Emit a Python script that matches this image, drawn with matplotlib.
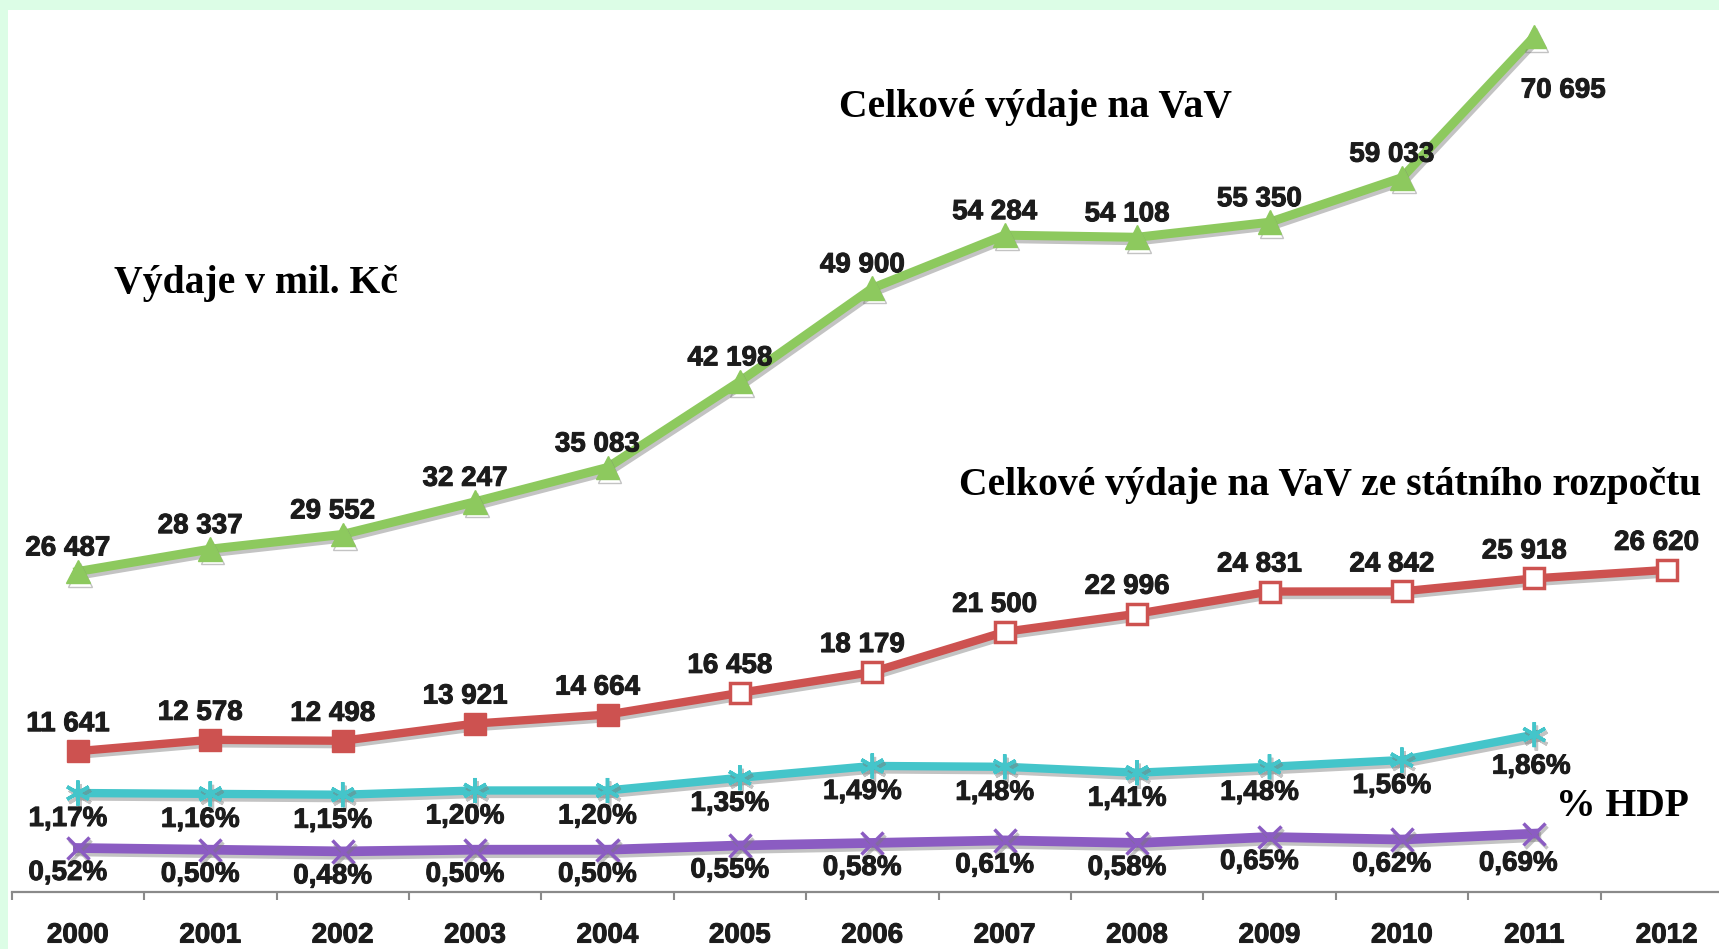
import matplotlib
matplotlib.use("Agg")
import matplotlib.pyplot as plt
import matplotlib.patheffects as pe
import numpy as np

years = ["2000", "2001", "2002", "2003", "2004", "2005", "2006",
         "2007", "2008", "2009", "2010", "2011", "2012"]
total_vav = [26487, 28337, 29552, 32247, 35083, 42198, 49900,
             54284, 54108, 55350, 59033, 70695]
state_vav = [11641, 12578, 12498, 13921, 14664, 16458, 18179,
             21500, 22996, 24831, 24842, 25918, 26620]
total_pct_gdp = [1.17, 1.16, 1.15, 1.20, 1.20, 1.35, 1.49,
                 1.48, 1.41, 1.48, 1.56, 1.86]
state_pct_gdp = [0.52, 0.50, 0.48, 0.50, 0.50, 0.55, 0.58,
                 0.61, 0.58, 0.65, 0.62, 0.69]

W, H = 1719, 949
fig = plt.figure(figsize=(W / 100, H / 100), dpi=100)
fig.patch.set_facecolor("#dcfde6")
# white panel (green frame only on left/top)
fig.patches.append(plt.Rectangle((8 / W, 0), 1, 1 - 10 / H, transform=fig.transFigure,
                                 facecolor="white", edgecolor="none", zorder=-10))

ax_left = 11.7 / W
ax_bottom = (H - 892) / H
ax = fig.add_axes([ax_left, ax_bottom, 13 * 132.4 / W, 892 / H])
ax.set_facecolor("none")
ax2 = ax.twinx()
ax2.set_facecolor("none")

k1 = 0.0121   # px per unit
ax.set_ylim(0, 892 / k1)
k2 = 84.6     # px per percent
ax2.set_ylim(0, 892 / k2)
ax.set_xlim(-0.5, 12.5)

x_all = np.arange(len(years))

def shadow():
    return [pe.SimpleLineShadow(offset=(1.5, -2.5), shadow_color="#7a7a7a", alpha=0.45),
            pe.Normal()]

green = "#8dc95e"
red = "#cd5250"
cyan = "#44c5ca"
purple = "#8b5cc2"

# total R&D
xg = x_all[:len(total_vav)]
ax.plot(xg, total_vav, color=green, lw=6.5, marker="^", ms=17, mfc=green, mec=green,
        path_effects=shadow(), zorder=5, solid_joinstyle="round")
# state budget R&D
xr = x_all[:len(state_vav)]
ax.plot(xr, state_vav, color=red, lw=6, path_effects=shadow(), zorder=5,
        solid_joinstyle="round")
n_filled = 5
ax.plot(xr[:n_filled], state_vav[:n_filled], ls="none", marker="s", ms=16,
        mfc=red, mec=red, zorder=6)
ax.plot(xr[n_filled:], state_vav[n_filled:], ls="none", marker="s", ms=14,
        mfc="white", mec=red, mew=2.5, zorder=6)

# % GDP lines
xc = x_all[:len(total_pct_gdp)]
ax2.plot(xc, total_pct_gdp, color=cyan, lw=6, marker=(6, 2, 0), ms=18, mec=cyan, mew=2.5,
         path_effects=shadow(), zorder=5, solid_joinstyle="round")
xp = x_all[:len(state_pct_gdp)]
ax2.plot(xp, state_pct_gdp, color=purple, lw=7, marker="x", ms=16, mec=purple, mew=2.5,
         path_effects=shadow(), zorder=5, solid_joinstyle="round")

txt_col = "#1c1c1c"
bold_fx = [pe.withStroke(linewidth=0.7, foreground=txt_col)]
lab_kw = dict(fontsize=20, fontweight="bold", family="Liberation Sans", color=txt_col,
              ha="center", va="center", textcoords="offset pixels", zorder=10,
              path_effects=bold_fx)

def fmt_num(v):
    return f"{v:,}".replace(",", " ")

def fmt_pct(v):
    return f"{v:.2f}%".replace(".", ",")

for i, v in enumerate(total_vav):
    off = (29, -54) if i == len(total_vav) - 1 else (-10, 23)
    ax.annotate(fmt_num(v), (xg[i], v), xytext=off, **lab_kw)
for i, v in enumerate(state_vav):
    ax.annotate(fmt_num(v), (xr[i], v), xytext=(-10, 27), **lab_kw)
for i, v in enumerate(total_pct_gdp):
    off = (-3, -32) if i == len(total_pct_gdp) - 1 else (-10, -26)
    ax2.annotate(fmt_pct(v), (xc[i], v), xytext=off, **lab_kw)
for i, v in enumerate(state_pct_gdp):
    off = (-16, -30) if i == len(state_pct_gdp) - 1 else (-10, -25)
    ax2.annotate(fmt_pct(v), (xp[i], v), xytext=off, **lab_kw)

# axes styling
for a in (ax, ax2):
    for s in ("top", "left", "right"):
        a.spines[s].set_visible(False)
    a.set_yticks([])
ax2.spines["bottom"].set_visible(False)
ax.spines["bottom"].set_color("#8a8a8a")
ax.spines["bottom"].set_linewidth(1.6)
ax.set_xticks(np.arange(-0.5, 12.6, 1.0))
ax.set_xticklabels([])
ax.tick_params(axis="x", which="major", length=6, width=1.5, color="#8a8a8a", direction="out")
ax.set_xticks(x_all, minor=True)
ax.set_xticklabels(years, minor=True)
ax.tick_params(axis="x", which="minor", length=0, pad=22)
for t in ax.get_xticklabels(minor=True):
    t.set_fontsize(20)
    t.set_fontweight("bold")
    t.set_family("Liberation Sans")
    t.set_color(txt_col)
    t.set_path_effects(bold_fx)

serif_kw = dict(family="Liberation Serif", fontweight="bold", color="black",
                ha="center", va="center", fontsize=28.5)
fig.text(256 / W, 1 - 283 / H, "Výdaje v mil. Kč", **serif_kw)
fig.text(1035 / W, 1 - 107 / H, "Celkové výdaje na VaV", **serif_kw)
fig.text(1330 / W, 1 - 486 / H, "Celkové výdaje na VaV ze státního rozpočtu", **serif_kw)
fig.text(1622 / W, 1 - 806 / H, "% HDP", **serif_kw)

fig.savefig("out.png", dpi=100, facecolor=fig.get_facecolor())
